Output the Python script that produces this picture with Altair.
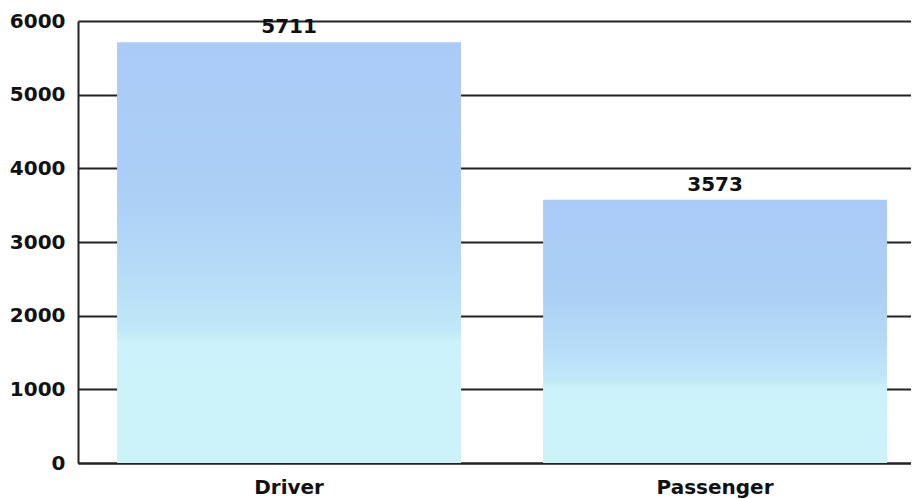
import altair as alt
import pandas as pd

categories = ["Driver", "Passenger"]
counts = [5711, 3573]
y_ticks = [0, 1000, 2000, 3000, 4000, 5000, 6000]

df = pd.DataFrame({"role": categories, "count": counts})

FONT = "DejaVu Sans"

gradient = alt.LinearGradient(
    gradient="linear",
    x1=0, x2=0, y1=0, y2=1,
    stops=[
        alt.GradientStop(color="#a9cbf6", offset=0.0),
        alt.GradientStop(color="#accff6", offset=0.35),
        alt.GradientStop(color="#b6dcf7", offset=0.55),
        alt.GradientStop(color="#c1e9f8", offset=0.69),
        alt.GradientStop(color="#cbf2fa", offset=0.71),
        alt.GradientStop(color="#cdf3fa", offset=1.0),
    ],
)

x_enc = alt.X(
    "role:N",
    sort=categories,
    scale=alt.Scale(paddingInner=0.1925, paddingOuter=0.074, align=0.62),
    axis=alt.Axis(
        title=None, labelAngle=0, ticks=False, tickSize=0, grid=False,
        domainColor="#222", domainWidth=2,
        labelFont=FONT, labelFontSize=20, labelFontWeight="bold",
        labelColor="#111", labelPadding=14,
    ),
)
y_enc = alt.Y(
    "count:Q",
    scale=alt.Scale(domain=[0, 6000], nice=False),
    axis=alt.Axis(
        title=None, values=y_ticks, format="d", ticks=False, tickSize=0,
        grid=True, gridColor="#222", gridWidth=2, gridOpacity=1,
        domainColor="#222", domainWidth=2,
        labelFont=FONT, labelFontSize=20, labelFontWeight="bold",
        labelColor="#111", labelPadding=13,
    ),
)

base = alt.Chart(df).encode(x=x_enc, y=y_enc)

bars = base.mark_bar(color=gradient)
labels = base.mark_text(
    font=FONT, fontSize=20, fontWeight="bold", color="#111",
    baseline="alphabetic", dy=-9,
).encode(text=alt.Text("count:Q", format="d"))

chart = (
    (bars + labels)
    .properties(
        width=833, height=442,
        autosize=alt.AutoSizeParams(type="none"),
        padding={"left": 70, "top": 13, "right": 0, "bottom": 36},
    )
    .configure_view(stroke=None)
    .configure(background="white")
)

chart.save("out.html", embed_options={"renderer": "svg", "actions": False})
